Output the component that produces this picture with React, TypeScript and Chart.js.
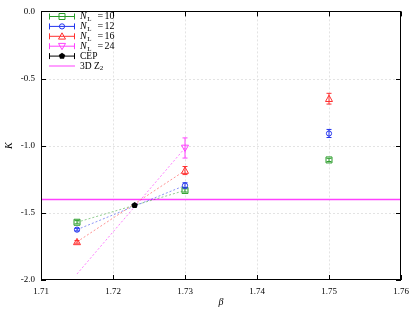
import React, { useEffect, useRef } from "react";
import { Chart, registerables } from "chart.js";

Chart.register(...registerables);

const betaPoints = [1.715, 1.73, 1.75];
const kN10 = [-1.57, -1.333, -1.106];
const errN10 = [0.012, 0.012, 0.012];
const kN12 = [-1.625, -1.296, -0.909];
const errN12 = [0.01, 0.02, 0.03];
const kN16 = [-1.716, -1.185, -0.65];
const errN16 = [0.01, 0.03, 0.04];
const betaN24 = [1.73];
const kN24 = [-1.017];
const errN24 = [0.075];
const cepBeta = [1.723];
const cepK = [-1.444];
const cepErr = [0.008];
const fitBeta = [1.715, 1.73];
const fitN10 = [-1.57, -1.333];
const fitN12 = [-1.625, -1.296];
const fitN16 = [-1.716, -1.185];
const fitN24 = [-1.955, -1.017];
const z2K = -1.4;
const xTicks = [1.71, 1.72, 1.73, 1.74, 1.75, 1.76];
const yTicks = [-2.0, -1.5, -1.0, -0.5, 0.0];
const legendLabels = ["10", "12", "16", "24", "CEP", "3D Z"];

const GREEN = "#2a9d2a";
const BLUE = "#2233ee";
const RED = "#ff3030";
const MAG = "#ff40ff";
const SERIF = "'Liberation Serif', 'DejaVu Serif', serif";

const pts = (xs: number[], ys: number[]) => xs.map((x, i) => ({ x, y: ys[i] }));

function drawMarker(ctx: CanvasRenderingContext2D, m: string, x: number, y: number, color: string) {
  ctx.strokeStyle = color;
  ctx.lineWidth = 1;
  ctx.beginPath();
  if (m === "rect") ctx.rect(x - 3, y - 3, 6, 6);
  else if (m === "circle") ctx.arc(x, y, 2.6, 0, Math.PI * 2);
  else if (m === "triangle") { ctx.moveTo(x, y - 3.5); ctx.lineTo(x + 3.5, y + 2.8); ctx.lineTo(x - 3.5, y + 2.8); ctx.closePath(); }
  else if (m === "tridown") { ctx.moveTo(x, y + 3.5); ctx.lineTo(x + 3.5, y - 2.8); ctx.lineTo(x - 3.5, y - 2.8); ctx.closePath(); }
  else if (m === "filled") {
    for (let k = 0; k < 5; k++) {
      const ang = -Math.PI / 2 + (k * 2 * Math.PI) / 5;
      const px = x + 3.4 * Math.cos(ang), py = y + 3.4 * Math.sin(ang);
      if (k === 0) ctx.moveTo(px, py); else ctx.lineTo(px, py);
    }
    ctx.closePath();
    ctx.fillStyle = color;
    ctx.fill();
    return;
  }
  ctx.stroke();
}

export default function App() {
  const ref = useRef<HTMLCanvasElement | null>(null);
  useEffect(() => {
    if (!ref.current) return;
    const markerSet = (label: string, xs: number[], ys: number[], err: number[], color: string, marker: string) => ({
      type: "scatter" as const,
      label,
      data: pts(xs, ys),
      err,
      marker,
      borderColor: color,
      backgroundColor: color,
      pointRadius: 0,
      showLine: false,
    });
    const fitSet = (ys: number[], color: string) => ({
      type: "line" as const,
      label: "fit",
      data: pts(fitBeta, ys),
      borderColor: color,
      borderWidth: 0.8,
      borderDash: [2, 2],
      pointRadius: 0,
      fill: false,
    });

    const plugin = {
      id: "deco",
      beforeDatasetsDraw(chart: any) {
        const ctx = chart.ctx;
        const xs = chart.scales.x;
        const ys = chart.scales.y;
        const a = chart.chartArea;
        ctx.save();
        ctx.strokeStyle = "#dcdcdc";
        ctx.lineWidth = 0.8;
        ctx.setLineDash([2, 2]);
        xTicks.slice(1, -1).forEach((v) => {
          const p = Math.round(xs.getPixelForValue(v)) + 0.5;
          ctx.beginPath(); ctx.moveTo(p, a.top); ctx.lineTo(p, a.bottom); ctx.stroke();
        });
        yTicks.slice(1, -1).forEach((v) => {
          const p = Math.round(ys.getPixelForValue(v)) + 0.5;
          ctx.beginPath(); ctx.moveTo(a.left, p); ctx.lineTo(a.right, p); ctx.stroke();
        });
        ctx.setLineDash([]);
        ctx.strokeStyle = MAG;
        ctx.lineWidth = 1.5;
        const zp = ys.getPixelForValue(z2K);
        ctx.beginPath(); ctx.moveTo(a.left, zp); ctx.lineTo(a.right, zp); ctx.stroke();
        ctx.restore();
      },
      afterDatasetsDraw(chart: any) {
        const ctx = chart.ctx;
        const xs = chart.scales.x;
        const ys = chart.scales.y;
        const a = chart.chartArea;
        ctx.save();
        chart.data.datasets.forEach((ds: any) => {
          if (!ds.err) return;
          ds.data.forEach((p: any, i: number) => {
            const px = xs.getPixelForValue(p.x);
            const py = ys.getPixelForValue(p.y);
            const y1 = ys.getPixelForValue(p.y - ds.err[i]);
            const y2 = ys.getPixelForValue(p.y + ds.err[i]);
            ctx.strokeStyle = ds.borderColor;
            ctx.lineWidth = 1;
            ctx.beginPath();
            ctx.moveTo(px, y1); ctx.lineTo(px, y2);
            ctx.moveTo(px - 2.5, y1); ctx.lineTo(px + 2.5, y1);
            ctx.moveTo(px - 2.5, y2); ctx.lineTo(px + 2.5, y2);
            ctx.stroke();
            drawMarker(ctx, ds.marker, px, py, ds.borderColor);
          });
        });
        ctx.strokeStyle = "#000";
        ctx.lineWidth = 1;
        ctx.strokeRect(Math.round(a.left) + 0.5, Math.round(a.top) + 0.5, Math.round(a.right - a.left) - 1, Math.round(a.bottom - a.top) - 1);
        ctx.beginPath();
        xTicks.forEach((v) => {
          const p = Math.round(xs.getPixelForValue(v)) + 0.5;
          ctx.moveTo(p, a.bottom); ctx.lineTo(p, a.bottom - 5);
          ctx.moveTo(p, a.top); ctx.lineTo(p, a.top + 5);
        });
        yTicks.forEach((v) => {
          const p = Math.round(ys.getPixelForValue(v)) + 0.5;
          ctx.moveTo(a.left, p); ctx.lineTo(a.left + 5, p);
          ctx.moveTo(a.right, p); ctx.lineTo(a.right - 5, p);
        });
        ctx.stroke();
        ctx.restore();
      },
      afterDraw(chart: any) {
        const ctx = chart.ctx;
        const a = chart.chartArea;
        ctx.save();
        ctx.textBaseline = "middle";
        const entries = [
          { c: GREEN, m: "rect" },
          { c: BLUE, m: "circle" },
          { c: RED, m: "triangle" },
          { c: MAG, m: "tridown" },
          { c: "#000", m: "filled" },
          { c: MAG, m: "line" },
        ];
        entries.forEach((e, i) => {
          const lab = legendLabels[i];
          const y = 16.5 + i * 9.9;
          const x0 = 49, x1 = 75, xm = 62;
          ctx.strokeStyle = e.c;
          ctx.lineWidth = 1;
          ctx.beginPath();
          ctx.moveTo(x0, y); ctx.lineTo(x1, y);
          if (e.m !== "line") {
            ctx.moveTo(x0 + 0.5, y - 3); ctx.lineTo(x0 + 0.5, y + 3);
            ctx.moveTo(x1 - 0.5, y - 3); ctx.lineTo(x1 - 0.5, y + 3);
          }
          ctx.stroke();
          if (e.m !== "line") drawMarker(ctx, e.m, xm, y, e.c);
          ctx.fillStyle = "#000";
          let tx = 80;
          if (e.m === "filled") {
            ctx.font = `9.5px ${SERIF}`;
            ctx.fillText(lab, tx, y);
          } else if (e.m === "line") {
            ctx.font = `9.5px ${SERIF}`;
            ctx.fillText(lab, tx, y);
            tx += ctx.measureText(lab).width;
            ctx.font = `7px ${SERIF}`;
            ctx.fillText("2", tx, y + 2.5);
          } else {
            ctx.font = `italic 10px ${SERIF}`;
            ctx.fillText("N", tx, y);
            tx += ctx.measureText("N").width + 0.5;
            ctx.font = `7px ${SERIF}`;
            ctx.fillText("L", tx, y + 2.5);
            ctx.font = `10px ${SERIF}`;
            ctx.fillText("=", 97.5, y);
            ctx.fillText(lab, 104.5, y);
          }
        });
        ctx.fillStyle = "#000";
        ctx.font = `italic 10px ${SERIF}`;
        ctx.textAlign = "center";
        ctx.fillText("\u03B2", (a.left + a.right) / 2, 302);
        ctx.translate(9, (a.top + a.bottom) / 2);
        ctx.rotate(-Math.PI / 2);
        ctx.fillText("K", 0, 0);
        ctx.restore();
      },
    };

    const chart = new Chart(ref.current, {
      type: "scatter",
      data: {
        datasets: [
          fitSet(fitN10, "rgba(42,157,42,0.65)"),
          fitSet(fitN12, "rgba(34,51,238,0.65)"),
          fitSet(fitN16, "rgba(255,48,48,0.65)"),
          fitSet(fitN24, "rgba(255,64,255,0.85)"),
          markerSet("N10", betaPoints, kN10, errN10, GREEN, "rect"),
          markerSet("N12", betaPoints, kN12, errN12, BLUE, "circle"),
          markerSet("N16", betaPoints, kN16, errN16, RED, "triangle"),
          markerSet("N24", betaN24, kN24, errN24, MAG, "tridown"),
          markerSet("CEP", cepBeta, cepK, cepErr, "#000", "filled"),
        ] as any,
      },
      options: {
        animation: false,
        responsive: false,
        layout: { padding: { left: 0, right: 15, top: 10, bottom: 0 } },
        plugins: { legend: { display: false }, tooltip: { enabled: false } },
        scales: {
          x: {
            type: "linear",
            min: 1.71,
            max: 1.76,
            afterFit: (s: any) => { s.height = 32; },
            afterBuildTicks: (s: any) => { s.ticks = xTicks.map((v) => ({ value: v })); },
            grid: { display: false, drawTicks: false },
            border: { display: false },
            ticks: {
              padding: 6,
              color: "#000",
              font: { family: SERIF, size: 9 },
              callback: (v: any) => Number(v).toFixed(2),
              maxRotation: 0,
            },
          },
          y: {
            type: "linear",
            min: -2,
            max: 0,
            afterFit: (s: any) => { s.width = 41; },
            afterBuildTicks: (s: any) => { s.ticks = yTicks.map((v) => ({ value: v })); },
            grid: { display: false, drawTicks: false },
            border: { display: false },
            ticks: {
              padding: 6,
              color: "#000",
              font: { family: SERIF, size: 9 },
              callback: (v: any) => Number(v).toFixed(1),
            },
          },
        },
      },
      plugins: [plugin],
    } as any);
    return () => chart.destroy();
  }, []);
  return (
    <div style={{ position: "fixed", left: 0, top: 0, width: 416, height: 312, background: "#fff" }}>
      <canvas ref={ref} width={416} height={312} />
    </div>
  );
}
